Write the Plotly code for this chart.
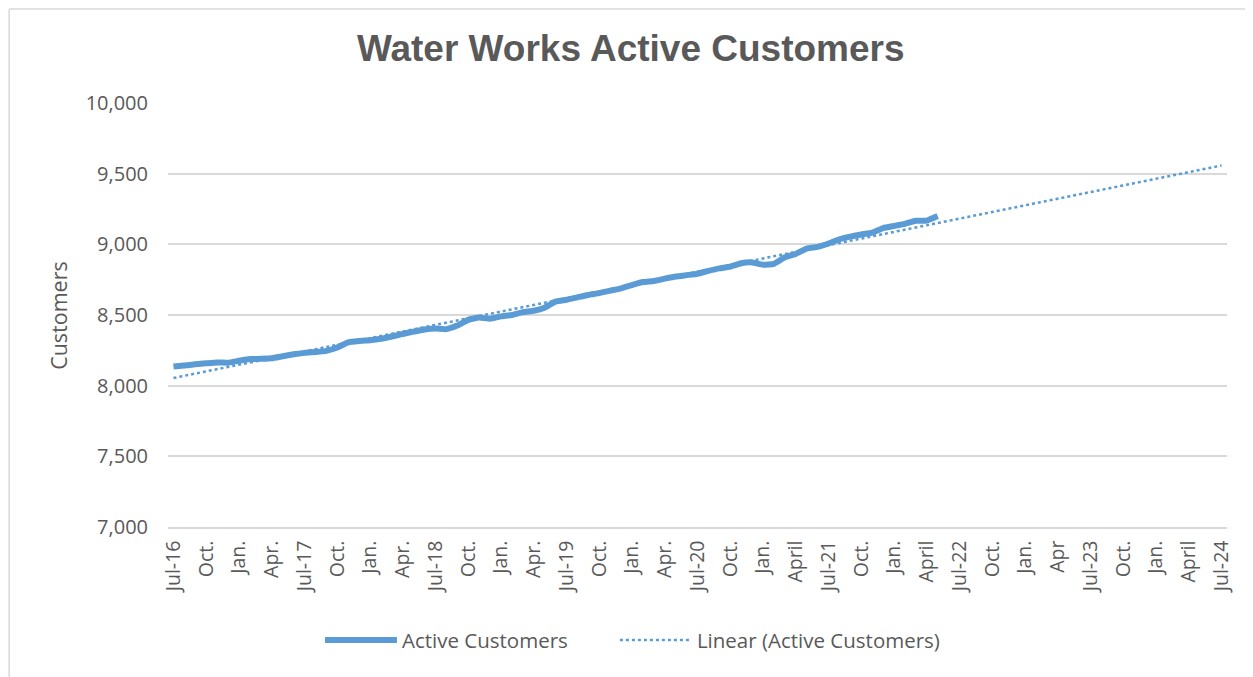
import numpy as np
import plotly.graph_objects as go

# Monthly categories Jul-16 .. Jul-24 (97 months); labels every quarter
tick_labels = ["Jul-16", "Oct.", "Jan.", "Apr.", "Jul-17", "Oct.", "Jan.", "Apr.",
               "Jul-18", "Oct.", "Jan.", "Apr.", "Jul-19", "Oct.", "Jan.", "Apr.",
               "Jul-20", "Oct.", "Jan.", "April", "Jul-21", "Oct.", "Jan.", "April",
               "Jul-22", "Oct.", "Jan.", "Apr", "Jul-23", "Oct.", "Jan.", "April", "Jul-24"]
n_months = 97

# Active customers, monthly from Jul-16
active_customers = [8135, 8143, 8151, 8158, 8164, 8162, 8176, 8188, 8190, 8194,
                    8208, 8222, 8232, 8238, 8246, 8270, 8306, 8316, 8322, 8332,
                    8348, 8366, 8382, 8398, 8405, 8400, 8425, 8466, 8482, 8474,
                    8490, 8500, 8520, 8530, 8552, 8595, 8608, 8625, 8642, 8655,
                    8672, 8689, 8712, 8733, 8741, 8757, 8772, 8782, 8792, 8812,
                    8830, 8842, 8866, 8872, 8856, 8862, 8908, 8932, 8970, 8982,
                    9006, 9036, 9055, 9070, 9082, 9115, 9130, 9145, 9167, 9168,
                    9200]

x_data = np.arange(len(active_customers))
slope, intercept = np.polyfit(x_data, active_customers, 1)
x_trend = np.arange(n_months)
y_trend = intercept + slope * x_trend

blue = "#5B9BD5"
grey_text = "#595959"
border = "#D9D9D9"

fig = go.Figure()
fig.add_trace(go.Scatter(x=x_data, y=active_customers, mode="lines",
                         name="Active Customers", legend="legend",
                         line=dict(color=blue, width=6, shape="spline", smoothing=0.4)))
fig.add_trace(go.Scatter(x=x_trend, y=y_trend, mode="lines",
                         name="Linear (Active Customers)", legend="legend2",
                         line=dict(color=blue, width=2.5, dash="dot")))

legend_font = dict(family="Open Sans", size=20.5, color=grey_text)

fig.update_layout(
    width=1253, height=677,
    margin=dict(l=160, r=34, t=95, b=158),
    paper_bgcolor="white", plot_bgcolor="white",
    title=dict(text="<b>Water Works Active Customers</b>", x=0.497, xanchor="center",
               y=0.941, yanchor="middle", yref="container",
               font=dict(family="Liberation Sans, Arial", size=37, color=grey_text)),
    xaxis=dict(range=[-0.5, n_months - 0.5], tickmode="array",
               tickvals=list(range(0, n_months, 3)), ticktext=tick_labels,
               tickangle=-90, showgrid=False, zeroline=False,
               showline=True, linecolor=border, linewidth=1.5,
               ticks="", ticklabelstandoff=4,
               tickfont=dict(family="Open Sans", size=19.5, color=grey_text)),
    yaxis=dict(range=[7000, 10000], tickvals=[7000, 7500, 8000, 8500, 9000, 9500, 10000],
               tickformat=",d", showgrid=True, gridcolor=border, gridwidth=1.5,
               zeroline=False, showline=False, ticks="", ticklabelstandoff=19,
               tickfont=dict(family="Open Sans", size=20, color=grey_text)),
    legend=dict(orientation="h", x=0.1435, xanchor="left", y=-0.267, yanchor="middle",
                font=legend_font, itemwidth=72, bgcolor="rgba(0,0,0,0)"),
    legend2=dict(orientation="h", x=0.422, xanchor="left", y=-0.267, yanchor="middle",
                 font=legend_font, itemwidth=72, bgcolor="rgba(0,0,0,0)"),
    showlegend=True,
    annotations=[dict(text="Customers", x=-0.104, y=0.5, xref="paper", yref="paper",
                      textangle=-90, showarrow=False, xanchor="center", yanchor="middle",
                      font=dict(family="Open Sans", size=21.5, color=grey_text))],
    shapes=[
        dict(type="line", xref="paper", yref="paper", x0=-0.150, x1=1.03,
             y0=1.2217, y1=1.2217, line=dict(color=border, width=1.5), layer="below"),
        dict(type="line", xref="paper", yref="paper", x0=-0.150, x1=-0.150,
             y0=-0.5, y1=1.2217, line=dict(color=border, width=1.5), layer="below"),
    ],
)

fig.write_html("out.html")
